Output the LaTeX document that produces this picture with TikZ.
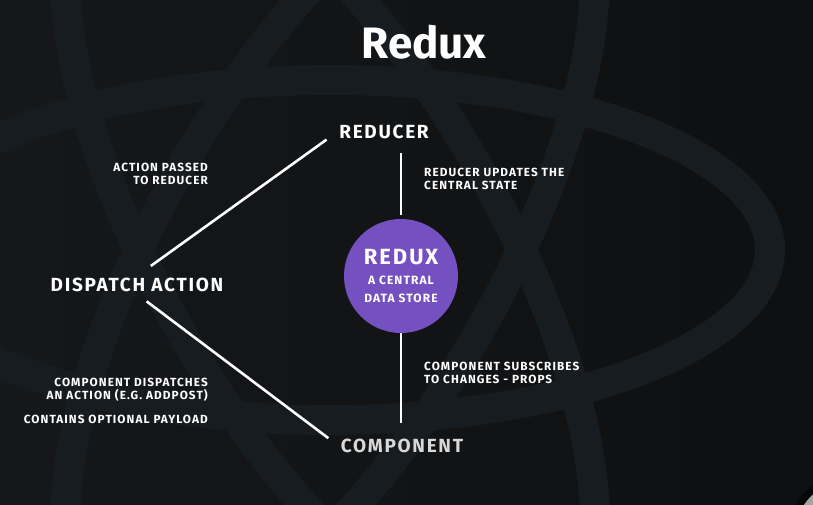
\documentclass[tikz,border=0pt]{standalone}
\usepackage{fontspec}
\setmainfont{Fira Sans}
\newfontfamily\trackfont[LetterSpace=9]{Fira Sans}

\definecolor{bgdark}{HTML}{0E0F10}
\definecolor{bgleft}{HTML}{15181B}
\definecolor{ringcol}{HTML}{171C20}
\definecolor{reduxpurple}{HTML}{7550C0}
\definecolor{softgray}{HTML}{D9D9D9}

\tikzset{
  bignode/.style={text=white, font=\trackfont\bfseries\fontsize{19}{21}\selectfont, inner sep=2pt},
  notenode/.style={text=white, font=\trackfont\bfseries\fontsize{11.8}{12.6}\selectfont, inner sep=0pt},
  link/.style={white, line width=2.6pt},
  ring/.style={ringcol, line width=30pt}
}

\begin{document}
\begin{tikzpicture}[x=1pt,y=-1pt]
            % Background
            \useasboundingbox (0,0) rectangle (813,504);
            \shade[left color=bgleft, right color=bgdark] (0,0) rectangle (813,504);
            \begin{scope}
              \clip (0,0) rectangle (813,504);
              \draw[ring, rotate around={60:(330,250)}] (330,250) ellipse [x radius=440, y radius=170];
              \draw[ring, rotate around={-60:(330,250)}] (330,250) ellipse [x radius=440, y radius=170];
              \draw[ring] (330,250) ellipse [x radius=440, y radius=170];
              \fill[black!75!ringcol] (850,535) circle (62);
              \fill[softgray!75!black] (850,535) circle (55);
            \end{scope}

            % Title
            \node[text=white, font=\bfseries\fontsize{44}{46}\selectfont] (title) at (424,42) {Redux};

            % Main nodes
            \node[bignode] (reducer) at (384,132) {REDUCER};
            \node[bignode] (dispatch) at (137,285) {DISPATCH ACTION};
            \node[bignode, text=softgray] (component) at (402,446) {COMPONENT};

            % Central store
            \node[circle, fill=reduxpurple, minimum size=114pt, inner sep=0pt, align=center, text=white,
                  font=\trackfont\bfseries\fontsize{12}{18}\selectfont] (store) at (401,276)
              {{\fontsize{22}{22}\selectfont REDUX}\\[2pt]{A CENTRAL}\\{DATA STORE}};

            % Connectors
            \draw[link, shorten <=17pt, shorten >=13pt] (dispatch.north) -- (reducer.west);
            \draw[link, shorten <=12pt, shorten >=13pt] (dispatch.south) -- (component.west);
            \draw[link, shorten <=12pt, shorten >=4pt] (reducer.south -| store.north) -- (store.north);
            \draw[link, shorten >=14pt] (store.south) -- (component.north -| store.south);

            % Notes
            \node[notenode, align=right, anchor=east] (passnote) at (208,174) {ACTION PASSED\\TO REDUCER};
            \node[notenode, align=left, anchor=west] (updatenote) at (424,179) {REDUCER UPDATES THE\\CENTRAL STATE};
            \node[notenode, align=left, anchor=west] (subnote) at (424,373) {COMPONENT SUBSCRIBES\\TO CHANGES - PROPS};
            \node[notenode, align=right, anchor=east] (dispnote) at (208,390) {COMPONENT DISPATCHES\\AN ACTION (E.G. ADDPOST)};
            \node[notenode, anchor=east] (payload) at (208,419) {CONTAINS OPTIONAL PAYLOAD};
        \end{tikzpicture}
\end{document}
